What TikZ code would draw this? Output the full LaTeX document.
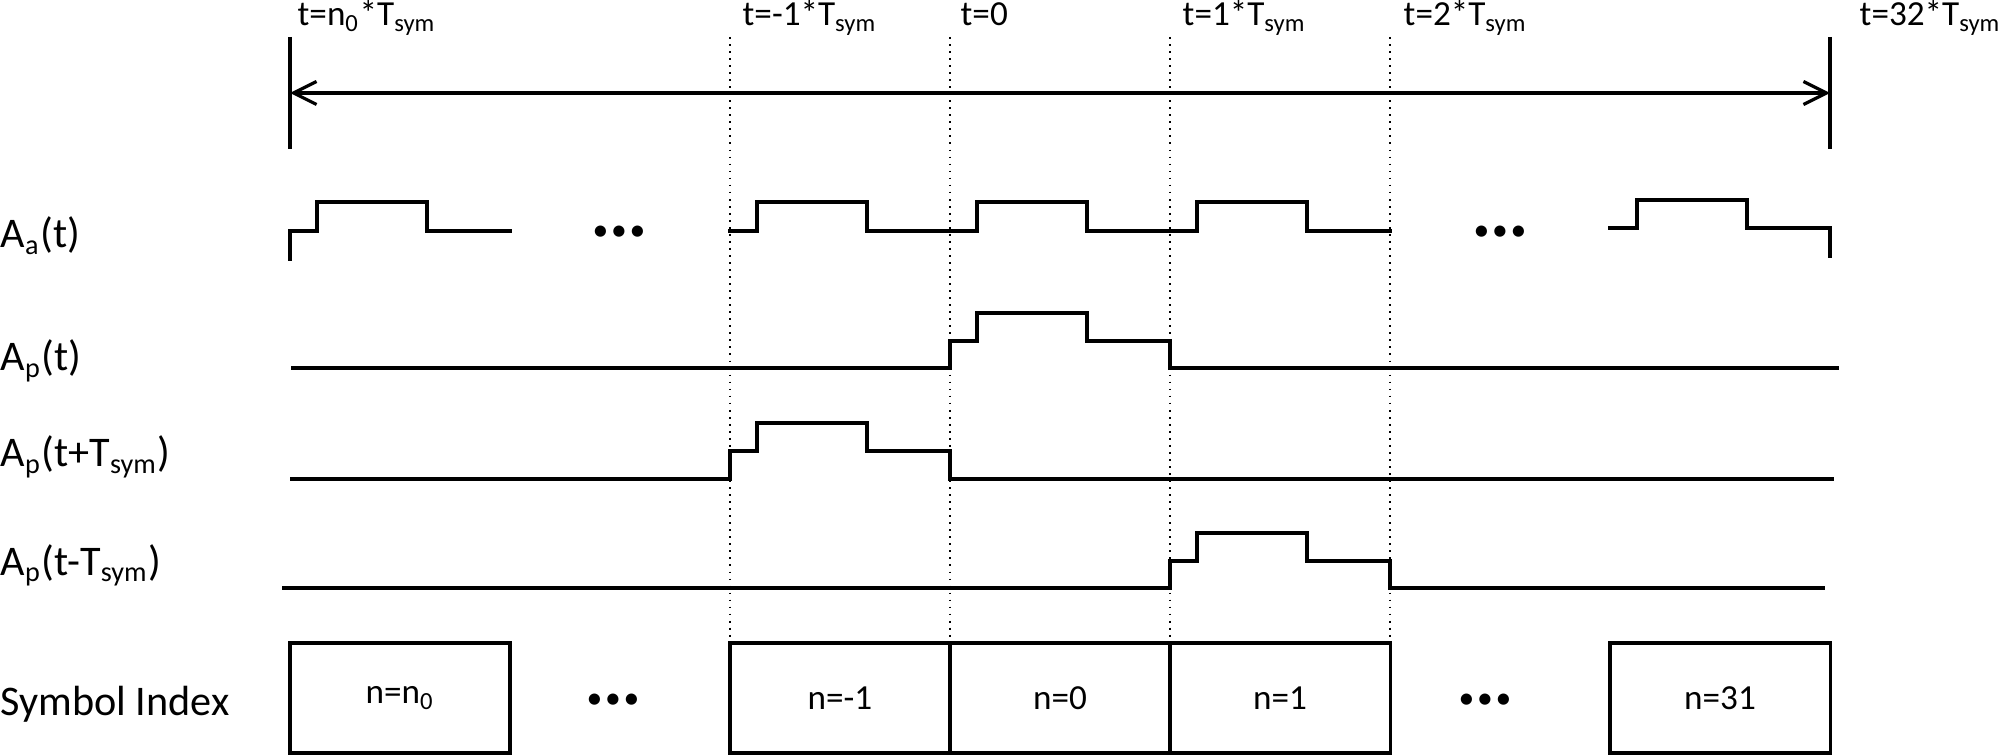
\documentclass[tikz,border=0pt]{standalone}
\usepackage{fontspec}
\setmainfont{Carlito}
\usetikzlibrary{arrows.meta}
\newcommand{\mydots}{\textbullet\kern0.8pt\textbullet\kern0.8pt\textbullet}
\begin{document}
\begin{tikzpicture}[x=0.01cm,y=-0.01cm,
  wave/.style={line width=0.9pt, line cap=rect},
  guide/.style={line width=0.45pt, dash pattern=on 0.5pt off 1.5pt},
  edgeline/.style={line width=0.9pt},
  toplabel/.style={anchor=base west, inner sep=0pt, font=\fontsize{10}{12}\selectfont},
  rowlabel/.style={anchor=base west, inner sep=0pt, font=\fontsize{12}{14}\selectfont},
  symbox/.style={draw, line width=0.9pt, minimum width=2.2cm, minimum height=1.1cm, inner sep=0pt, font=\fontsize{10}{12}\selectfont},
  dotsnode/.style={inner sep=0pt, font=\fontsize{9}{10}\selectfont}]
\useasboundingbox (0,0) rectangle (2000,755);

% guide coordinates
\coordinate (gA1) at (730,37);  \coordinate (gA2) at (730,643);
\coordinate (gB1) at (950,37);  \coordinate (gB2) at (950,643);
\coordinate (gC1) at (1170,37); \coordinate (gC2) at (1170,643);
\coordinate (gD1) at (1390,37); \coordinate (gD2) at (1390,643);
\draw[guide] (gA1) -- (gA2);
\draw[guide] (gB1) -- (gB2);
\draw[guide] (gC1) -- (gC2);
\draw[guide] (gD1) -- (gD2);

% top labels
\node[toplabel] (tl0) at (297,26) {t=n\textsubscript{0}*T\textsubscript{sym}};
\node[toplabel] (tl1) at (742,26) {t=-1*T\textsubscript{sym}};
\node[toplabel] (tl2) at (960,26) {t=0};
\node[toplabel] (tl3) at (1182,26) {t=1*T\textsubscript{sym}};
\node[toplabel] (tl4) at (1403,26) {t=2*T\textsubscript{sym}};
\node[toplabel] (tl5) at (1859,26) {t=32*T\textsubscript{sym}};

% edge markers and span arrow
\coordinate (eL1) at (290,37); \coordinate (eL2) at (290,149);
\coordinate (eR1) at (1830,37); \coordinate (eR2) at (1830,149);
\coordinate (aL) at (290,93); \coordinate (aR) at (1830,93);
\draw[edgeline] (eL1) -- (eL2);
\draw[edgeline] (eR1) -- (eR2);
\draw[edgeline, {Straight Barb[length=0.23cm,width=0.23cm]}-{Straight Barb[length=0.23cm,width=0.23cm]}] (aL) -- (aR);

% row labels
\node[rowlabel] (la) at (0,248) {A\textsubscript{a}(t)};
\node[rowlabel] (lp0) at (0,371) {A\textsubscript{p}(t)};
\node[rowlabel] (lp1) at (0,467) {A\textsubscript{p}(t+T\textsubscript{sym})};
\node[rowlabel] (lp2) at (0,575) {A\textsubscript{p}(t-T\textsubscript{sym})};
\node[rowlabel] (ls) at (0,715) {Symbol Index};

% A_a(t)
\draw[wave] (290,259) -- (290,231) -- (317,231) -- (317,202) -- (427,202) -- (427,231) -- (510,231);
\draw[wave] (730,231) -- (757,231) -- (757,202) -- (867,202) -- (867,231)
  -- (977,231) -- (977,202) -- (1087,202) -- (1087,231)
  -- (1197,231) -- (1197,202) -- (1307,202) -- (1307,231) -- (1390,231);
\draw[wave] (1610,228) -- (1637,228) -- (1637,200) -- (1747,200) -- (1747,228) -- (1830,228) -- (1830,256);
\node[dotsnode] (da1) at (619,233) {\mydots};
\node[dotsnode] (da2) at (1500,233) {\mydots};

% A_p(t)
\draw[wave] (293,368) -- (950,368) -- (950,341) -- (977,341) -- (977,313) -- (1087,313) -- (1087,341) -- (1170,341) -- (1170,368) -- (1837,368);
% A_p(t+Tsym)
\draw[wave] (292,479) -- (730,479) -- (730,451) -- (757,451) -- (757,423) -- (867,423) -- (867,451) -- (950,451) -- (950,479) -- (1832,479);
% A_p(t-Tsym)
\draw[wave] (284,588) -- (1170,588) -- (1170,561) -- (1197,561) -- (1197,533) -- (1307,533) -- (1307,561) -- (1390,561) -- (1390,588) -- (1823,588);

% symbol boxes
\node[symbox] (bn0) at (400,698) {n=n\textsubscript{0}};
\node[symbox] (bm1) at (840,698) {n=-1};
\node[symbox] (b0) at (1060,698) {n=0};
\node[symbox] (b1) at (1280,698) {n=1};
\node[symbox] (b31) at (1720,698) {n=31};
\node[dotsnode] (db1) at (613,701) {\mydots};
\node[dotsnode] (db2) at (1485,701) {\mydots};
\end{tikzpicture}
\end{document}
